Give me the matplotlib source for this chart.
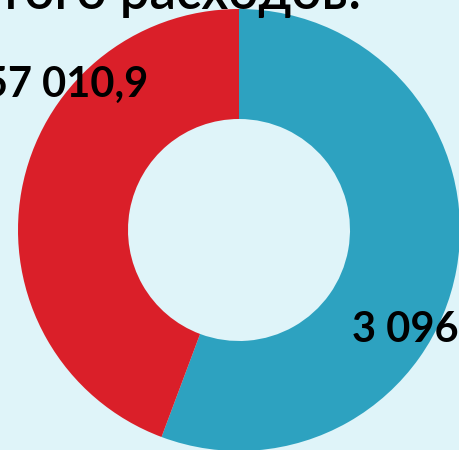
import matplotlib
matplotlib.use("Agg")
import matplotlib.pyplot as plt

# Data
categories = ["Blue", "Red"]
shares = [55.7, 44.3]  # percent of the ring
labels = ["3 096", "57 010,9"]
title = "Итого расходов:"

colors = ["#2DA2C0", "#DA1F29"]
bg = "#DFF4F9"

W, H = 460, 450
fig = plt.figure(figsize=(W / 100, H / 100), dpi=100)
fig.patch.set_facecolor(bg)
ax = fig.add_axes([0, 0, 1, 1])
ax.set_facecolor(bg)

cx, cy = 239, H - 230
R = 221
ax.pie(shares, colors=colors, startangle=90, counterclock=False,
       center=(cx, cy), radius=R, frame=True,
       wedgeprops=dict(width=R - 111, linewidth=0))
ax.set_xlim(0, W)
ax.set_ylim(0, H)
ax.set_aspect("equal")
ax.axis("off")

ax.text(361, H - 9, title, ha="right", va="baseline", fontsize=38,
        family="Lato", fontweight="semibold", color="black")
ax.text(148, H - 97, labels[1], ha="right", va="baseline", fontsize=30,
        family="Lato", fontweight="bold", color="black")
ax.text(352, H - 342, labels[0], ha="left", va="baseline", fontsize=30,
        family="Lato", fontweight="bold", color="black")

fig.savefig("out.png", dpi=100, facecolor=bg)
